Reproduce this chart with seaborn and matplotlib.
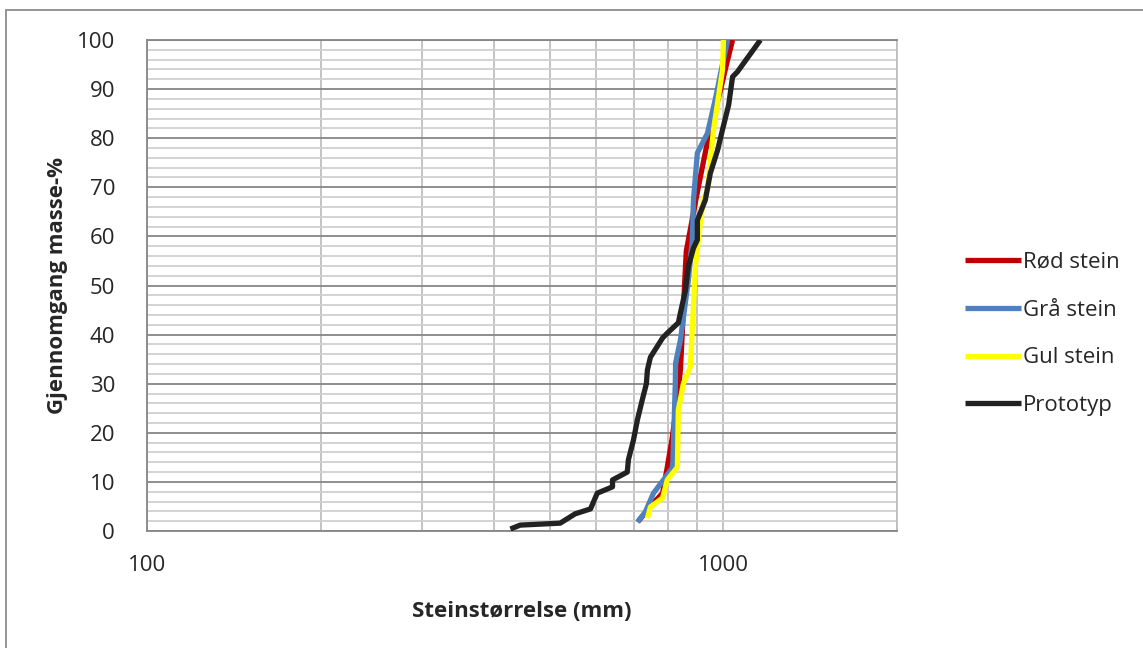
import matplotlib
matplotlib.use("Agg")
import matplotlib.pyplot as plt
import matplotlib.ticker as mticker
from matplotlib.patches import Rectangle
import numpy as np
import pandas as pd
import seaborn as sns

# passing %
red_size = [712, 735, 760, 784, 799, 815, 830, 842, 848, 856, 862, 878, 894, 915, 941, 965, 989, 1012, 1037]
red_pass = [2.0, 4.0, 6.0, 7.7, 13.0, 19.0, 26.0, 32.8, 40.0, 50.0, 57.0, 62.0, 67.0, 73.0, 80.0, 85.0, 90.0, 95.0, 100.0]

gray_size = [709, 732, 756, 815, 817, 820, 825, 826, 842, 869, 883, 887, 901, 938, 970, 989, 1017]
gray_pass = [1.8, 3.9, 7.7, 12.8, 14.0, 20.0, 30.0, 34.2, 38.9, 51.0, 59.3, 67.4, 77.0, 81.0, 88.4, 93.3, 100.0]

yellow_size = [738, 747, 784, 799, 832, 835, 852, 876, 894, 912, 923, 938, 961, 996, 1000]
yellow_pass = [2.6, 4.9, 6.7, 10.4, 13.0, 24.6, 30.0, 33.4, 53.8, 63.0, 67.4, 69.5, 81.7, 93.9, 100.0]

proto_size = [427, 444, 521, 553, 588, 604, 642, 642, 681, 684, 698, 709, 723, 735, 738, 747,
              784, 799, 835, 842, 859, 869, 887, 901, 901, 930, 949, 977, 996, 1021, 1037, 1057, 1159]
proto_pass = [0.4, 1.2, 1.6, 3.5, 4.5, 7.7, 9.0, 10.4, 12.0, 14.5, 18.5, 22.6, 26.7, 30.0, 32.8, 35.4,
              39.3, 40.3, 42.4, 44.4, 49.0, 53.8, 57.6, 59.3, 63.3, 67.4, 72.9, 77.6, 81.7, 86.8, 92.5, 93.5, 100.0]

names = ["Rød stein", "Grå stein", "Gul stein", "Prototyp"]
colors = ["#C00000", "#4F81BD", "#FFFF00", "#222222"]

df = pd.concat([
    pd.DataFrame({"size": red_size, "pass": red_pass, "serie": names[0]}),
    pd.DataFrame({"size": gray_size, "pass": gray_pass, "serie": names[1]}),
    pd.DataFrame({"size": yellow_size, "pass": yellow_pass, "serie": names[2]}),
    pd.DataFrame({"size": proto_size, "pass": proto_pass, "serie": names[3]}),
])

sns.set_style("white")
plt.rcParams["font.family"] = ["Open Sans", "DejaVu Sans"]

fig = plt.figure(figsize=(11.43, 6.48), dpi=100)
ax = fig.add_axes([147 / 1143, 1 - 531 / 648, 750 / 1143, 491 / 648])

sns.lineplot(data=df, x="size", y="pass", hue="serie", hue_order=names,
             palette=colors, sort=False, estimator=None, lw=3.8, ax=ax,
             solid_capstyle="butt", zorder=3)

ax.set_xscale("log")
ax.set_xlim(100, 2000)
ax.set_ylim(0, 100)
ax.set_yticks(np.arange(0, 101, 10))
ax.set_yticks(np.arange(0, 101, 2), minor=True)
ax.xaxis.set_major_locator(mticker.FixedLocator([100, 1000]))
ax.xaxis.set_major_formatter(mticker.FixedFormatter(["100", "1000"]))
ax.xaxis.set_minor_locator(mticker.FixedLocator([200, 300, 400, 500, 600, 700, 800, 900, 2000]))
ax.xaxis.set_minor_formatter(mticker.NullFormatter())

ax.grid(which="major", axis="y", color="#868686", lw=1.3, zorder=1)
ax.grid(which="minor", axis="y", color="#D0D0D0", lw=1.3, zorder=1)
ax.grid(which="both", axis="x", color="#BFBFBF", lw=1.3, zorder=1)
ax.set_axisbelow(True)

for s in ax.spines.values():
    s.set_color("#BFBFBF")
    s.set_linewidth(1.3)
ax.spines["left"].set_color("#868686")
ax.spines["bottom"].set_color("#868686")
ax.spines["top"].set_color("#868686")

ax.tick_params(axis="both", which="major", direction="out", length=8, width=1.3,
               color="#868686", labelsize=16)
ax.tick_params(axis="x", which="minor", length=0)
ax.tick_params(axis="y", which="minor", length=0)
ax.tick_params(axis="y", which="major", pad=15)
ax.tick_params(axis="x", which="major", pad=9)

ax.set_xlabel("Steinstørrelse (mm)", fontsize=16, fontweight="bold", labelpad=18)
ax.set_ylabel("Gjennomgang masse-%", fontsize=16, fontweight="bold", labelpad=6)

ax.legend_.remove()
handles, labels = ax.get_legend_handles_labels()
fig.legend(handles, labels, loc="center left", bbox_to_anchor=(945 / 1143, 1 - 334 / 648),
           frameon=False, fontsize=16, handlelength=2.5, handletextpad=0.12,
           labelspacing=1.2)

fig.patches.append(Rectangle((6 / 1143, -0.05), 1.1, 1 - 10 / 648 + 0.05, transform=fig.transFigure,
                             fill=False, edgecolor="#8C8C8C", lw=1.3))

fig.savefig("out.png", dpi=100)
